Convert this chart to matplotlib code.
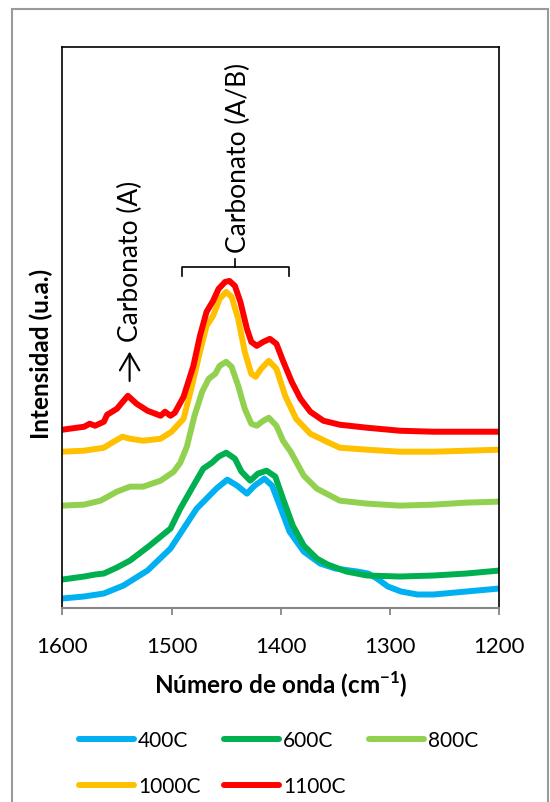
import numpy as np
import matplotlib
matplotlib.use("Agg")
import matplotlib.pyplot as plt
from matplotlib.patches import Rectangle

plt.rcParams['font.family'] = ['Lato', 'DejaVu Sans']
plt.rcParams['mathtext.fontset'] = 'custom'
plt.rcParams['mathtext.rm'] = 'Lato'
plt.rcParams['mathtext.bf'] = 'Lato:bold'

# espectros FTIR, zona de carbonatos (intensidad desplazada, u.a.)
wn_400 = [1600, 1580, 1562, 1544, 1522, 1501, 1489, 1477, 1468, 1459, 1449, 1440, 1431,
          1424, 1415, 1408, 1401, 1392, 1379, 1364, 1350, 1330, 1320, 1312, 1302, 1290,
          1275, 1260, 1230, 1200]
int_400 = [10, 12, 15, 23, 38, 60, 80, 100, 110, 120, 129, 123, 115,
           123, 130, 123, 103, 77, 57, 45, 40, 37, 35, 30, 22, 17,
           14, 14, 17, 20]

wn_600 = [1600, 1580, 1570, 1562, 1550, 1538, 1520, 1501, 1492, 1480, 1471, 1463, 1457,
          1450, 1442, 1436, 1428, 1421, 1413, 1405, 1398, 1389, 1379, 1367, 1357, 1340,
          1321, 1291, 1260, 1230, 1200]
int_600 = [29, 32, 34, 35, 41, 48, 63, 80, 100, 123, 140, 146, 152,
           156, 150, 137, 128, 135, 138, 132, 110, 83, 63, 50, 44, 37,
           33, 32, 33, 35, 38]

wn_800 = [1600, 1580, 1565, 1550, 1538, 1526, 1510, 1498, 1492, 1486, 1479, 1472, 1466,
          1460, 1456, 1450, 1445, 1439, 1433, 1427, 1422, 1416, 1411, 1404, 1398, 1391,
          1385, 1379, 1367, 1346, 1321, 1291, 1260, 1230, 1200]
int_800 = [103, 104, 108, 117, 122, 122, 128, 137, 146, 162, 193, 217, 230,
           235, 243, 247, 242, 223, 200, 185, 183, 188, 191, 183, 168, 157,
           145, 133, 120, 108, 105, 103, 104, 106, 107]

wn_1000 = [1600, 1580, 1562, 1553, 1545, 1538, 1526, 1510, 1500, 1489, 1482, 1474, 1468,
           1462, 1456, 1450, 1445, 1439, 1433, 1427, 1423, 1418, 1411, 1404, 1396, 1386,
           1373, 1358, 1346, 1321, 1291, 1260, 1230, 1200]
int_1000 = [157, 158, 161, 167, 172, 170, 168, 170, 177, 190, 220, 257, 283,
            293, 310, 317, 312, 290, 257, 235, 232, 240, 248, 240, 213, 190,
            175, 167, 161, 159, 157, 157, 158, 159]

wn_1100 = [1600, 1580, 1575, 1570, 1562, 1559, 1550, 1540, 1532, 1522, 1510, 1506, 1501,
           1497, 1489, 1480, 1474, 1468, 1462, 1457, 1451, 1447, 1442, 1437, 1431, 1427,
           1422, 1416, 1410, 1404, 1398, 1390, 1382, 1373, 1361, 1346, 1321, 1291, 1260,
           1230, 1200]
int_1100 = [179, 182, 185, 183, 187, 194, 200, 213, 205, 198, 193, 197, 193,
            196, 212, 243, 273, 297, 308, 320, 327, 328, 323, 307, 280, 267,
            263, 267, 270, 265, 248, 227, 210, 197, 188, 184, 181, 178, 177,
            177, 177]

labels = ['400C', '600C', '800C', '1000C', '1100C']
colors = ['#00B0F0', '#00B050', '#92D050', '#FFC000', '#FF0000']
series = [(wn_400, int_400), (wn_600, int_600), (wn_800, int_800),
          (wn_1000, int_1000), (wn_1100, int_1100)]

fig = plt.figure(figsize=(5.5, 8.03), dpi=100)
ax = fig.add_axes([0.1133, 0.2410, 0.7945, 0.6989])

# marco exterior del grafico
fig.patches.append(Rectangle((12.3 / 550, -0.05), (548.3 - 12.3) / 550, 1.05 - 10 / 803,
                             transform=fig.transFigure, fill=False,
                             edgecolor='#9a9a9a', linewidth=1.5))

lines = []
for (wn, it), lab, col in zip(series, labels, colors):
    ln, = ax.plot(wn, it, color=col, lw=4.3, label=lab, solid_capstyle='round',
                  solid_joinstyle='round')
    lines.append(ln)

ax.set_xlim(1600, 1200)
ax.set_ylim(0, 562)
ax.set_xticks([1600, 1500, 1400, 1300, 1200])
ax.set_yticks([])
ax.tick_params(axis='x', direction='out', length=5, width=1.3, color='#868686',
               labelsize=16, pad=15)
for s in ['top', 'left', 'right']:
    ax.spines[s].set_color('black')
    ax.spines[s].set_linewidth(1.2)
ax.spines['bottom'].set_color('#868686')
ax.spines['bottom'].set_linewidth(1.5)

ax.set_xlabel(r'Número de onda (cm$^{\mathbf{-1}}$)', fontsize=17.5, fontweight='bold',
              labelpad=9)
fig.text(41.7 / 550, 1 - 354 / 803, 'Intensidad (u.a.)', rotation=90, fontsize=17.5,
         fontweight='bold', ha='center', va='center')

# anotaciones de las bandas de carbonato
ax.text(1438.7, 357, 'Carbonato (A/B)', rotation=90, fontsize=19, ha='center', va='bottom')
ax.plot([1490.2, 1490.2, 1392.8, 1392.8], [333, 342.3, 342.3, 333], color='black', lw=1.2)
ax.plot([1441.9, 1441.9], [342.3, 350], color='black', lw=1.2)
ax.text(1537.8, 268, 'Carbonato (A)', rotation=90, fontsize=19, ha='center', va='bottom')
ax.annotate('', xy=(1538.4, 260), xytext=(1538.4, 225),
            arrowprops=dict(arrowstyle='->,head_length=0.6,head_width=0.35',
                            color='black', lw=1.5, mutation_scale=20))

# leyenda por filas: 400C 600C 800C / 1000C 1100C
order = [0, 3, 1, 4, 2]
fig.legend([lines[i] for i in order], [labels[i] for i in order],
           loc='upper left', bbox_to_anchor=(79 / 550, 1 - 731 / 803), ncol=3,
           frameon=False, fontsize=15, handlelength=2.64, handletextpad=0.2,
           columnspacing=1.12, labelspacing=1.24, borderpad=0, borderaxespad=0)

fig.savefig('out.png', dpi=100)
